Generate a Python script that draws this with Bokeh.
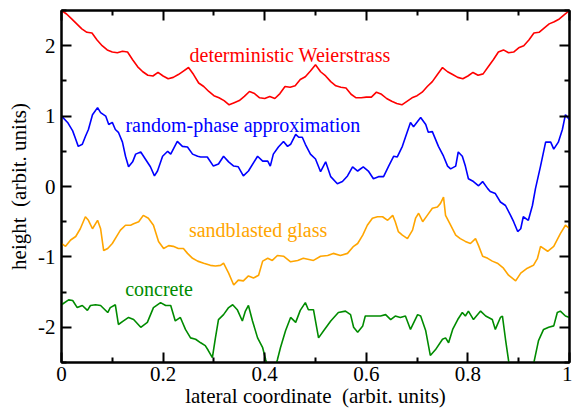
from bokeh.plotting import figure
from bokeh.models import LinearAxis, FixedTicker, Label, Range1d
from bokeh.embed import file_html
from bokeh.resources import INLINE

FONT = "Liberation Serif"

# ---------------- data ----------------
weier_x = [0.00, 0.01, 0.02, 0.03, 0.04, 0.05, 0.06, 0.07, 0.08, 0.09,
           0.10, 0.11, 0.12, 0.13, 0.14, 0.15, 0.16, 0.17, 0.18, 0.19,
           0.20, 0.21, 0.22, 0.23, 0.24, 0.25, 0.26, 0.27, 0.28, 0.29,
           0.30, 0.31, 0.32, 0.33, 0.34, 0.35, 0.36, 0.37, 0.38, 0.39,
           0.40, 0.41, 0.42, 0.43, 0.44, 0.45, 0.46, 0.47, 0.48, 0.49,
           0.50, 0.51, 0.52, 0.53, 0.54, 0.55, 0.56, 0.57, 0.58, 0.59,
           0.60, 0.61, 0.62, 0.63, 0.64, 0.65, 0.66, 0.67, 0.68, 0.69,
           0.70, 0.71, 0.72, 0.73, 0.74, 0.75, 0.76, 0.77, 0.78, 0.79,
           0.80, 0.81, 0.82, 0.83, 0.84, 0.85, 0.86, 0.87, 0.88, 0.89,
           0.90, 0.91, 0.92, 0.93, 0.94, 0.95, 0.96, 0.97, 0.98, 0.99,
           1.00]
weier_y = [2.50, 2.45, 2.38, 2.31, 2.24, 2.19, 2.18, 2.08, 2.00, 1.94,
           1.91, 1.90, 1.92, 1.91, 1.80, 1.70, 1.63, 1.58, 1.57, 1.62,
           1.57, 1.53, 1.55, 1.59, 1.64, 1.69, 1.59, 1.47, 1.42, 1.35,
           1.29, 1.26, 1.22, 1.16, 1.19, 1.22, 1.28, 1.35, 1.32, 1.26,
           1.25, 1.28, 1.25, 1.32, 1.42, 1.41, 1.43, 1.52, 1.56, 1.64,
           1.73, 1.63, 1.57, 1.49, 1.43, 1.41, 1.40, 1.31, 1.26, 1.26,
           1.27, 1.27, 1.34, 1.31, 1.25, 1.21, 1.18, 1.16, 1.21, 1.26,
           1.29, 1.34, 1.42, 1.49, 1.59, 1.69, 1.63, 1.59, 1.55, 1.53,
           1.57, 1.62, 1.58, 1.60, 1.70, 1.80, 1.91, 1.94, 1.90, 1.91,
           1.97, 2.00, 2.08, 2.18, 2.19, 2.25, 2.31, 2.34, 2.38, 2.44,
           2.50]

random_x = [0.000, 0.012, 0.022, 0.028, 0.033, 0.041, 0.047, 0.053, 0.061, 0.071,
            0.077, 0.087, 0.093, 0.100, 0.106, 0.112, 0.120, 0.126, 0.132, 0.140,
            0.146, 0.156, 0.165, 0.175, 0.183, 0.189, 0.199, 0.209, 0.215, 0.228,
            0.238, 0.248, 0.258, 0.268, 0.274, 0.287, 0.299, 0.309, 0.319, 0.329,
            0.339, 0.348, 0.358, 0.368, 0.386, 0.396, 0.406, 0.411, 0.417, 0.427,
            0.437, 0.445, 0.451, 0.461, 0.467, 0.474, 0.480, 0.490, 0.500, 0.510,
            0.520, 0.530, 0.543, 0.553, 0.563, 0.573, 0.583, 0.594, 0.604, 0.614,
            0.624, 0.634, 0.644, 0.654, 0.661, 0.671, 0.677, 0.687, 0.693, 0.707,
            0.717, 0.722, 0.730, 0.742, 0.752, 0.760, 0.766, 0.776, 0.781, 0.789,
            0.795, 0.801, 0.811, 0.821, 0.829, 0.839, 0.844, 0.854, 0.864, 0.874,
            0.884, 0.890, 0.898, 0.904, 0.909, 0.919, 0.927, 0.933, 0.943, 0.953,
            0.963, 0.969, 0.978, 0.986, 0.992, 1.000]
random_y = [1.00, 0.91, 0.79, 0.67, 0.57, 0.60, 0.71, 0.81, 1.02, 1.12,
            1.05, 1.00, 0.88, 0.91, 0.81, 0.77, 0.63, 0.43, 0.28, 0.35,
            0.46, 0.49, 0.39, 0.28, 0.15, 0.22, 0.43, 0.50, 0.46, 0.64,
            0.57, 0.56, 0.46, 0.43, 0.42, 0.42, 0.29, 0.32, 0.43, 0.35,
            0.29, 0.28, 0.15, 0.22, 0.43, 0.36, 0.36, 0.29, 0.46, 0.56,
            0.64, 0.57, 0.60, 0.74, 0.70, 0.70, 0.60, 0.46, 0.39, 0.21,
            0.35, 0.14, 0.04, 0.07, 0.15, 0.28, 0.22, 0.28, 0.22, 0.11,
            0.14, 0.14, 0.29, 0.43, 0.42, 0.57, 0.70, 0.91, 0.85, 0.98,
            0.88, 0.77, 0.78, 0.57, 0.43, 0.29, 0.25, 0.29, 0.49, 0.43,
            0.29, 0.11, 0.07, 0.01, 0.07, -0.03, -0.07, -0.10, -0.22, -0.27,
            -0.41, -0.50, -0.64, -0.60, -0.43, -0.48, -0.27, -0.03, 0.29, 0.63,
            0.63, 0.53, 0.63, 0.81, 1.02, 0.95]

glass_x = [0.000, 0.008, 0.018, 0.028, 0.037, 0.047, 0.053, 0.061, 0.071, 0.077,
           0.083, 0.091, 0.100, 0.110, 0.116, 0.126, 0.136, 0.142, 0.152, 0.161,
           0.171, 0.181, 0.191, 0.201, 0.211, 0.220, 0.230, 0.240, 0.248, 0.258,
           0.268, 0.280, 0.293, 0.303, 0.313, 0.319, 0.329, 0.339, 0.348, 0.358,
           0.368, 0.378, 0.388, 0.396, 0.406, 0.415, 0.425, 0.437, 0.451, 0.465,
           0.476, 0.496, 0.510, 0.524, 0.535, 0.549, 0.563, 0.575, 0.583, 0.593,
           0.602, 0.612, 0.622, 0.632, 0.642, 0.652, 0.657, 0.663, 0.671, 0.681,
           0.691, 0.697, 0.703, 0.711, 0.720, 0.730, 0.740, 0.746, 0.752, 0.756,
           0.766, 0.776, 0.785, 0.795, 0.805, 0.815, 0.821, 0.829, 0.839, 0.848,
           0.858, 0.870, 0.880, 0.894, 0.904, 0.917, 0.929, 0.937, 0.943, 0.957,
           0.969, 0.982, 0.992, 1.000]
glass_y = [-0.81, -0.85, -0.76, -0.71, -0.60, -0.43, -0.48, -0.60, -0.48, -0.60,
           -0.91, -0.88, -0.81, -0.69, -0.62, -0.55, -0.55, -0.53, -0.50, -0.41,
           -0.45, -0.55, -0.78, -0.88, -0.84, -0.85, -0.88, -0.88, -0.95, -1.02,
           -1.06, -1.09, -1.12, -1.13, -1.12, -1.09, -1.23, -1.40, -1.33, -1.34,
           -1.27, -1.30, -1.26, -1.06, -1.02, -1.05, -0.98, -0.99, -1.07, -1.05,
           -1.02, -1.05, -0.99, -0.98, -0.95, -0.98, -0.95, -0.85, -0.81, -0.69,
           -0.55, -0.45, -0.43, -0.43, -0.48, -0.41, -0.50, -0.64, -0.69, -0.74,
           -0.62, -0.45, -0.38, -0.50, -0.41, -0.31, -0.29, -0.24, -0.15, -0.41,
           -0.55, -0.69, -0.74, -0.78, -0.81, -0.74, -0.84, -0.99, -1.02, -1.06,
           -1.09, -1.16, -1.26, -1.34, -1.23, -1.16, -1.12, -1.02, -0.85, -0.92,
           -0.85, -0.67, -0.55, -0.60]

concrete_x = [0.000, 0.014, 0.022, 0.031, 0.041, 0.051, 0.057, 0.067, 0.077, 0.091,
              0.096, 0.106, 0.112, 0.122, 0.132, 0.142, 0.156, 0.169, 0.181, 0.195,
              0.205, 0.215, 0.224, 0.234, 0.244, 0.254, 0.264, 0.274, 0.283, 0.289,
              0.297, 0.303, 0.309, 0.319, 0.329, 0.337, 0.346, 0.356, 0.362, 0.368,
              0.376, 0.386, 0.396, 0.402, 0.413, 0.425, 0.431, 0.441, 0.451, 0.461,
              0.470, 0.480, 0.486, 0.496, 0.506, 0.516, 0.530, 0.545, 0.559, 0.569,
              0.575, 0.583, 0.593, 0.598, 0.612, 0.628, 0.638, 0.648, 0.657, 0.667,
              0.677, 0.687, 0.701, 0.707, 0.717, 0.726, 0.736, 0.750, 0.756, 0.762,
              0.770, 0.780, 0.789, 0.795, 0.801, 0.811, 0.825, 0.835, 0.848, 0.854,
              0.864, 0.868, 0.874, 0.880, 0.902, 0.929, 0.939, 0.949, 0.959, 0.969,
              0.976, 0.982, 0.992, 1.000]
concrete_y = [-1.68, -1.61, -1.62, -1.72, -1.69, -1.76, -1.69, -1.68, -1.69, -1.79,
              -1.72, -1.68, -1.96, -1.91, -1.86, -1.89, -2.00, -1.93, -1.72, -1.65,
              -1.69, -1.69, -1.91, -1.86, -2.03, -2.15, -2.17, -2.22, -2.26, -2.33,
              -2.43, -2.15, -1.89, -1.82, -1.72, -1.68, -1.75, -1.91, -1.77, -1.69,
              -1.91, -2.15, -2.29, -2.46, -2.75, -2.46, -2.29, -2.05, -1.86, -1.93,
              -1.76, -1.65, -1.75, -1.75, -2.15, -2.05, -1.91, -1.79, -1.77, -1.82,
              -2.00, -2.07, -1.98, -1.84, -1.84, -1.84, -1.82, -1.89, -1.84, -1.86,
              -1.84, -2.03, -1.82, -1.84, -2.05, -2.40, -2.32, -2.17, -2.15, -2.22,
              -2.03, -1.89, -1.79, -1.84, -1.77, -1.89, -1.77, -1.84, -1.89, -2.03,
              -1.86, -1.84, -2.17, -2.47, -3.27, -2.53, -2.19, -2.03, -2.00, -1.98,
              -1.79, -1.77, -1.84, -1.86]

x_ticks = [0.0, 0.2, 0.4, 0.6, 0.8, 1.0]
x_tick_labels = ["0", "0.2", "0.4", "0.6", "0.8", "1"]
x_minor = [0.1, 0.3, 0.5, 0.7, 0.9]
y_ticks = [-2.0, -1.0, 0.0, 1.0, 2.0]
y_tick_labels = ["-2", "-1", "0", "1", "2"]
y_minor = [-2.5, -1.5, -0.5, 0.5, 1.5, 2.5]

# ---------------- figure ----------------
p = figure(width=572, height=410, output_backend="svg", toolbar_location=None,
           x_range=Range1d(0, 1), y_range=Range1d(-2.5, 2.5),
           min_border_left=61, min_border_right=3, min_border_top=10,
           min_border_bottom=45)
p.grid.visible = False
p.outline_line_color = "black"
p.outline_line_width = 2
p.background_fill_color = "white"
p.border_fill_color = "white"

xt = FixedTicker(ticks=x_ticks, minor_ticks=x_minor)
yt = FixedTicker(ticks=y_ticks, minor_ticks=y_minor)


def style(ax, show):
    ax.axis_line_width = 2
    ax.axis_line_color = "black"
    ax.major_tick_in = 10
    ax.major_tick_out = 0
    ax.minor_tick_in = 5
    ax.minor_tick_out = 0
    ax.major_tick_line_width = 2
    ax.minor_tick_line_width = 2
    ax.major_tick_line_color = "black"
    ax.minor_tick_line_color = "black"
    ax.major_label_text_font = FONT
    ax.axis_label_text_font = FONT
    ax.axis_label_text_font_style = "normal"
    ax.axis_label_text_font_size = "21px"
    ax.axis_label_text_color = "black"
    if show:
        ax.major_label_text_font_size = "21px"
        ax.major_label_text_color = "black"
    else:
        ax.major_label_text_font_size = "1px"
        ax.major_label_text_color = None
        ax.major_label_standoff = 0


xa = p.xaxis[0]
xa.ticker = xt
xa.major_label_overrides = dict(zip(x_ticks, x_tick_labels))
xa.axis_label = "lateral coordinate \u00a0(arbit. units)"
style(xa, True)
xa.major_label_standoff = 4
xa.axis_label_standoff = 0

ya = p.yaxis[0]
ya.ticker = yt
ya.major_label_overrides = dict(zip(y_ticks, y_tick_labels))
ya.axis_label = "height \u00a0(arbit. units)"
style(ya, True)
ya.major_label_standoff = 6
ya.axis_label_standoff = 4

top = LinearAxis(ticker=xt)
style(top, False)
p.add_layout(top, "above")
right = LinearAxis(ticker=yt)
style(right, False)
p.add_layout(right, "right")

p.line(weier_x, weier_y, line_color="#ff0000", line_width=1.6)
p.line(random_x, random_y, line_color="#0000ff", line_width=1.6)
p.line(glass_x, glass_y, line_color="#ffa500", line_width=1.6)
p.line(concrete_x, concrete_y, line_color="#008b00", line_width=1.6)

labels = [
    ("deterministic Weierstrass", 0.450, 1.87, "#ff0000"),
    ("random-phase approximation", 0.357, 0.88, "#0000ff"),
    ("sandblasted glass", 0.387, -0.62, "#ffa500"),
    ("concrete", 0.192, -1.46, "#008b00"),
]
for txt, lx, ly, col in labels:
    p.add_layout(Label(x=lx, y=ly, text=txt, text_align="center",
                       text_baseline="alphabetic", text_font=FONT,
                       text_font_size="20px", text_color=col))

open("out.html", "w").write(file_html(p, INLINE))
